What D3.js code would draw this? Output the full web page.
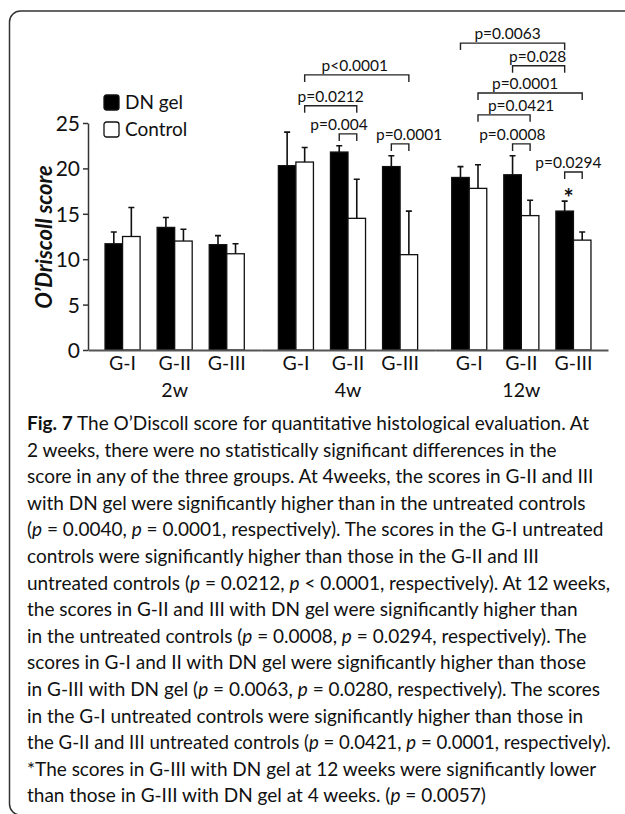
<!DOCTYPE html>
<html>
<head>
<meta charset="utf-8">
<script src="https://cdn.jsdelivr.net/npm/d3@7"></script>
<style>
  body { margin: 0; background: #fff; }
  text { font-family: Lato, "Open Sans", sans-serif; fill: #111; }
</style>
</head>
<body>
<div id="fig"></div>
<script>
// data (time-major order: 2w G-I..G-III, 4w ..., 12w ...)
const times = ['2w', '4w', '12w'];
const groups = ['G-I', 'G-II', 'G-III'];
const series = ['DN gel', 'Control'];
const dnMean = [11.7, 13.5, 11.6, 20.3, 21.8, 20.2, 19.0, 19.3, 15.3];
const dnSD = [1.3, 1.1, 1.0, 3.7, 0.7, 1.2, 1.2, 2.1, 1.1];
const ctlMean = [12.5, 12.0, 10.6, 20.7, 14.5, 10.5, 17.8, 14.8, 12.1];
const ctlSD = [3.2, 1.3, 1.1, 1.6, 4.3, 4.8, 2.6, 1.7, 0.9];
const yTicks = [0, 5, 10, 15, 20, 25];

// significance brackets: level is in score units
const brackets = [
  { time: '4w', from: ['G-I', 'Control'], to: ['G-III', 'Control'], label: 'p<0.0001', level: 30.3 },
  { time: '4w', from: ['G-I', 'Control'], to: ['G-II', 'Control'], label: 'p=0.0212', level: 26.9 },
  { time: '4w', from: ['G-II', 'DN gel'], to: ['G-II', 'Control'], label: 'p=0.004', level: 23.8 },
  { time: '4w', from: ['G-III', 'DN gel'], to: ['G-III', 'Control'], label: 'p=0.0001', level: 22.7 },
  { time: '12w', from: ['G-I', 'DN gel'], to: ['G-III', 'DN gel'], label: 'p=0.0063', level: 33.8 },
  { time: '12w', from: ['G-II', 'DN gel'], to: ['G-III', 'DN gel'], label: 'p=0.028', level: 31.3 },
  { time: '12w', from: ['G-I', 'Control'], to: ['G-III', 'Control'], label: 'p=0.0001', level: 28.3 },
  { time: '12w', from: ['G-I', 'Control'], to: ['G-II', 'Control'], label: 'p=0.0421', level: 25.9 },
  { time: '12w', from: ['G-II', 'DN gel'], to: ['G-II', 'Control'], label: 'p=0.0008', level: 22.7 },
  { time: '12w', from: ['G-III', 'DN gel'], to: ['G-III', 'Control'], label: 'p=0.0294', level: 19.6 }
];
// horizontal nudge of each bracket label (px)
const labelDx = [-2, 0, -9, 9, -5, -1, -5, 17, -9, -5];

const caption = [
  "[Fig. 7] The O\u2019Discoll score for quantitative histological evaluation. At",
  "2 weeks, there were no statistically significant differences in the",
  "score in any of the three groups. At 4weeks, the scores in G-II and III",
  "with DN gel were significantly higher than in the untreated controls",
  "({p} = 0.0040, {p} = 0.0001, respectively). The scores in the G-I untreated",
  "controls were significantly higher than those in the G-II and III",
  "untreated controls ({p} = 0.0212, {p} < 0.0001, respectively). At 12 weeks,",
  "the scores in G-II and III with DN gel were significantly higher than",
  "in the untreated controls ({p} = 0.0008, {p} = 0.0294, respectively). The",
  "scores in G-I and II with DN gel were significantly higher than those",
  "in G-III with DN gel ({p} = 0.0063, {p} = 0.0280, respectively). The scores",
  "in the G-I untreated controls were significantly higher than those in",
  "the G-II and III untreated controls ({p} = 0.0421, {p} = 0.0001, respectively).",
  "*The scores in G-III with DN gel at 12 weeks were significantly lower",
  "than those in G-III with DN gel at 4 weeks. ({p} = 0.0057)"
];

const W = 625, H = 814;
const svg = d3.select('#fig').append('svg').attr('width', W).attr('height', H);

// rounded frame, runs off the right and bottom edge
svg.append('rect')
  .attr('x', 9.5).attr('y', 11).attr('width', 660).attr('height', 804).attr('rx', 11)
  .attr('fill', 'none').attr('stroke', '#333').attr('stroke-width', 1.5);

// scales
const y = d3.scaleLinear().domain([0, 25]).range([350, 123]);
const xTime = d3.scaleBand().domain(times).range([88, 608]);
const xGroup = d3.scaleBand().domain(groups).range([0, xTime.bandwidth()]).padding(0.327);
const xSeries = d3.scaleBand().domain(series).range([0, xGroup.bandwidth()]);
const barX = (t, g, s) => xTime(t) + xGroup(g) + xSeries(s);
const barMid = (t, g, s) => barX(t, g, s) + xSeries.bandwidth() / 2;

const rows = [];
times.forEach((t, ti) => groups.forEach((g, gi) => {
  const i = ti * groups.length + gi;
  rows.push({ t, g, s: 'DN gel', mean: dnMean[i], sd: dnSD[i] });
  rows.push({ t, g, s: 'Control', mean: ctlMean[i], sd: ctlSD[i] });
}));

// error bars (upper only)
const cap = 3;
svg.append('g').selectAll('path').data(rows).join('path')
  .attr('d', d => {
    const cx = barMid(d.t, d.g, d.s);
    return `M${cx},${y(d.mean)}V${y(d.mean + d.sd)}M${cx - cap},${y(d.mean + d.sd)}H${cx + cap}`;
  })
  .attr('fill', 'none').attr('stroke', '#111').attr('stroke-width', 1.6);

// bars
svg.append('g').selectAll('rect').data(rows).join('rect')
  .attr('x', d => barX(d.t, d.g, d.s))
  .attr('y', d => y(d.mean))
  .attr('width', xSeries.bandwidth())
  .attr('height', d => y(0) - y(d.mean))
  .attr('fill', d => d.s === 'DN gel' ? '#000' : '#fff')
  .attr('stroke', '#111').attr('stroke-width', 1.3);

// y axis
const yAxis = svg.append('g').attr('transform', 'translate(88,0)')
  .call(d3.axisLeft(y).tickValues(yTicks).tickSize(5).tickSizeOuter(0).tickPadding(3));
yAxis.selectAll('text').style('font-size', '21px').attr('dy', '0.36em');
yAxis.selectAll('path,line').attr('stroke', '#333').attr('stroke-width', 1.5);

// x axis: one piece per time point, then the time labels
times.forEach(t => {
  const gx = svg.append('g').attr('transform', `translate(${xTime(t)},${y(0)})`)
    .call(d3.axisBottom(xGroup).tickSize(0).tickSizeOuter(0).tickPadding(6));
  gx.selectAll('text').style('font-size', '19.5px');
  gx.select('.domain').attr('stroke', '#555').attr('stroke-width', 1.8);
});
const tAxis = svg.append('g').attr('transform', `translate(0,${y(0)})`)
  .call(d3.axisBottom(xTime).tickSize(0).tickPadding(33));
tAxis.select('.domain').remove();
tAxis.selectAll('text').style('font-size', '19.5px');
svg.selectAll('.tick text').attr('fill', '#111');

// y title
svg.append('text')
  .attr('transform', 'translate(52,237) rotate(-90)')
  .attr('text-anchor', 'middle')
  .style('font-size', '22px').style('font-weight', 'bold').style('font-style', 'italic')
  .text('O\u2019Driscoll score');

// legend
const legend = svg.append('g').selectAll('g').data(series).join('g')
  .attr('transform', (d, i) => `translate(104,${95 + i * 27})`);
legend.append('rect').attr('width', 15).attr('height', 15).attr('rx', 2.5)
  .attr('fill', d => d === 'DN gel' ? '#000' : '#fff')
  .attr('stroke', '#111').attr('stroke-width', 1.3);
legend.append('text').attr('x', 21).attr('y', 14).style('font-size', '19px').text(d => d);

// significance brackets
const tick = 7;
const bg = svg.append('g').selectAll('g').data(brackets).join('g');
bg.append('path')
  .attr('d', d => {
    const x1 = barMid(d.time, d.from[0], d.from[1]);
    const x2 = barMid(d.time, d.to[0], d.to[1]);
    const yl = y(d.level);
    return `M${x1},${yl + tick}V${yl}H${x2}V${yl + tick}`;
  })
  .attr('fill', 'none').attr('stroke', '#222').attr('stroke-width', 1.4);
bg.append('text')
  .attr('x', (d, i) => (barMid(d.time, d.from[0], d.from[1]) + barMid(d.time, d.to[0], d.to[1])) / 2 + labelDx[i])
  .attr('y', d => y(d.level) - 4)
  .attr('text-anchor', 'middle')
  .style('font-size', '15.5px')
  .text(d => d.label);

// asterisk over 12w G-III DN gel
const star = rows.find(d => d.t === '12w' && d.g === 'G-III' && d.s === 'DN gel');
svg.append('text')
  .attr('x', barMid(star.t, star.g, star.s) + 4)
  .attr('y', y(star.mean + star.sd) + 6)
  .attr('text-anchor', 'middle')
  .style('font-size', '24px').style('font-weight', 'bold')
  .text('*');

// caption
const cap0 = 430, capStep = 26.6, capMax = 584, capFont = 19;
const capText = svg.append('g').selectAll('text').data(caption).join('text')
  .attr('x', 27).attr('y', (d, i) => cap0 + i * capStep)
  .style('font-size', capFont + 'px').attr('fill', '#222');
capText.each(function (line) {
  const el = d3.select(this);
  line.split(/(\[[^\]]+\]|\{[^}]+\})/).filter(s => s.length).forEach(part => {
    const ts = el.append('tspan');
    if (part[0] === '[') ts.style('font-weight', 'bold').text(part.slice(1, -1));
    else if (part[0] === '{') ts.style('font-style', 'italic').text(part.slice(1, -1));
    else ts.text(part);
  });
  // shrink a line that would run past the frame
  const w = this.getComputedTextLength();
  if (w > capMax) el.style('font-size', (capFont * capMax / w).toFixed(2) + 'px');
});
</script>
</body>
</html>
